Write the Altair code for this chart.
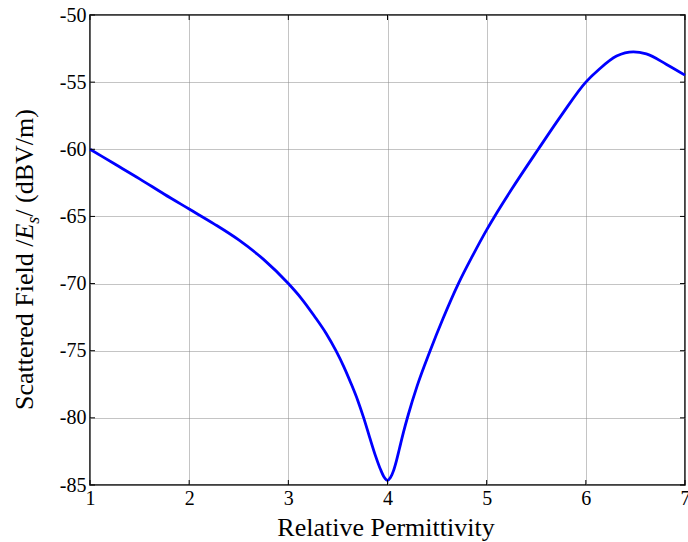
import altair as alt
import pandas as pd

# Curve values
permittivity = [1.0, 1.25, 1.5, 1.75, 2.0, 2.25, 2.5, 2.75, 3.0, 3.13, 3.26, 3.38, 3.48,
                3.56, 3.63, 3.70, 3.76, 3.82, 3.88, 3.93, 3.965, 4.0, 4.03, 4.06, 4.09,
                4.12, 4.16, 4.21, 4.3, 4.43, 4.56, 4.715, 4.86, 5.0, 5.08, 5.25, 5.52,
                5.76, 6.0, 6.14, 6.31, 6.48, 6.61, 6.81, 7.0]
field_db = [-60.0, -61.1, -62.2, -63.35, -64.45, -65.55, -66.75, -68.2, -70.0, -71.1,
            -72.4, -73.7, -75.0, -76.2, -77.4, -78.7, -80.0, -81.45, -82.85, -83.85,
            -84.4, -84.65, -84.45, -83.95, -83.2, -82.3, -81.1, -79.75, -77.6, -75.0,
            -72.6, -70.0, -67.9, -66.0, -65.0, -63.0, -60.0, -57.4, -55.0, -54.0,
            -53.06, -52.74, -52.9, -53.66, -54.48]

x_ticks = [1, 2, 3, 4, 5, 6, 7]
y_ticks = [-85, -80, -75, -70, -65, -60, -55, -50]

FONT = "Liberation Serif"
W, H = 595, 470

df = pd.DataFrame({"x": permittivity, "y": field_db})
xt = pd.DataFrame({"x": x_ticks})
yt = pd.DataFrame({"y": y_ticks})

xscale = alt.Scale(domain=[1, 7], nice=False, zero=False)
yscale = alt.Scale(domain=[-85, -50], nice=False, zero=False)

line = alt.Chart(df).mark_line(color="#0000ff", strokeWidth=2.8,
                               interpolate="monotone").encode(
    x=alt.X("x:Q", scale=xscale,
            axis=alt.Axis(values=x_ticks, title="Relative Permittivity",
                          labelExpr="'' + datum.value",
                          labelFont=FONT, labelFontSize=20, labelColor="black",
                          labelPadding=3, labelOverlap=False, labelFlush=False,
                          ticks=False, domain=False,
                          grid=True, gridColor="#888888", gridDash=[1, 1], gridWidth=1,
                          titleFont=FONT, titleFontSize=26, titleFontWeight="normal",
                          titleColor="black", titleX=W / 2 - 2, titleY=50,
                          titleBaseline="alphabetic", titleAlign="center")),
    y=alt.Y("y:Q", scale=yscale,
            axis=alt.Axis(values=y_ticks, title=None,
                          labelExpr="'' + datum.value",
                          labelFont=FONT, labelFontSize=20, labelColor="black",
                          labelPadding=4, labelOverlap=False, labelFlush=False,
                          ticks=False, domain=False,
                          grid=True, gridColor="#888888", gridDash=[1, 1], gridWidth=1)),
)

tick_len = 5
xticks_bottom = alt.Chart(xt).mark_rule(color="black", strokeWidth=1).encode(
    x=alt.X("x:Q", scale=xscale), y=alt.value(H), y2=alt.value(H - tick_len))
xticks_top = alt.Chart(xt).mark_rule(color="black", strokeWidth=1).encode(
    x=alt.X("x:Q", scale=xscale), y=alt.value(0), y2=alt.value(tick_len))
yticks_left = alt.Chart(yt).mark_rule(color="black", strokeWidth=1).encode(
    y=alt.Y("y:Q", scale=yscale), x=alt.value(0), x2=alt.value(tick_len))
yticks_right = alt.Chart(yt).mark_rule(color="black", strokeWidth=1).encode(
    y=alt.Y("y:Q", scale=yscale), x=alt.value(W), x2=alt.value(W - tick_len))

# y-axis title pieces (rotated), with italic E and subscript s
s = 26
base_x = 33 - 90
start_y = 410 - 15
p1 = "Scattered Field /"
p1_w = 6.555 * s
e_w = 0.611 * s
sub_size = 18
sub_w = 0.389 * sub_size
pieces = [
    (p1, start_y, base_x, s, "normal"),
    ("E", start_y - p1_w, base_x, s, "italic"),
    ("s", start_y - p1_w - e_w, base_x + 6, sub_size, "italic"),
    ("/ (dBV/m)", start_y - p1_w - e_w - sub_w, base_x, s, "normal"),
]
title_layers = []
for txt, yy, xx, fs, style in pieces:
    title_layers.append(
        alt.Chart(pd.DataFrame({"t": [txt]})).mark_text(
            font=FONT, fontSize=fs, fontStyle=style, angle=270, align="left",
            baseline="alphabetic", color="black"
        ).encode(text="t:N", x=alt.value(xx), y=alt.value(yy))
    )

chart = alt.layer(line, xticks_bottom, xticks_top, yticks_left, yticks_right,
                  *title_layers).properties(
    width=W, height=H,
    autosize=alt.AutoSizeParams(type="none"),
    padding={"left": 90, "top": 15, "right": 3, "bottom": 57},
    background="white",
).configure(font=FONT).configure_axis(
    labelFont=FONT, titleFont=FONT
).configure_view(stroke="black", strokeWidth=1.5)

chart.save("out.html", embed_options={"renderer": "svg", "actions": False})
